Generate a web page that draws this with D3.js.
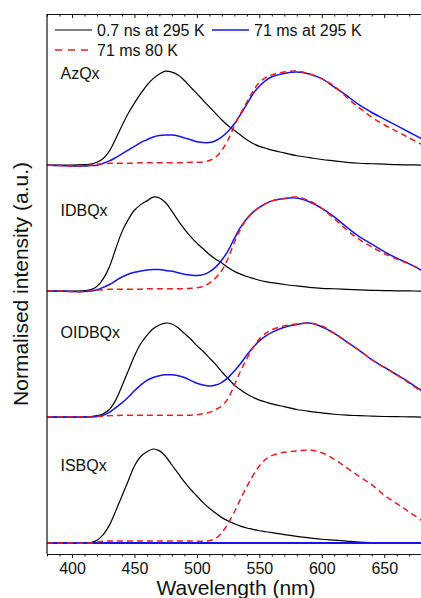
<!DOCTYPE html>
<html>
<head>
<meta charset="utf-8">
<script src="https://cdn.jsdelivr.net/npm/d3@7"></script>
<style>
  html, body { margin: 0; padding: 0; background: #fff; }
  svg { display: block; }
  text { font-family: "Liberation Sans", Arial, sans-serif; fill: #111; }
</style>
</head>
<body>
<svg id="chart" width="421" height="598"></svg>
<script>
// ---------------- data ----------------
const wavelengths = [380,390,400,410,415,420,425,430,435,440,445,450,455,460,465,470,475,480,485,490,495,500,505,510,515,520,525,530,535,540,545,550,555,560,570,580,590,600,610,620,630,640,650,660,670,680];

const samples = ["AzQx", "IDBQx", "OIDBQx", "ISBQx"];
const sampleOffsets = [4.02, 2.68, 1.34, 0];
const seriesNames = ["0.7 ns at 295 K", "71 ms at 295 K", "71 ms 80 K"];

// 0.7 ns at 295 K (prompt)
const azqxPrompt   = [0,0,0,0.005,0.01,0.03,0.07,0.15,0.28,0.42,0.55,0.66,0.76,0.85,0.92,0.97,1.0,0.99,0.96,0.90,0.83,0.76,0.69,0.62,0.55,0.48,0.42,0.37,0.32,0.27,0.23,0.20,0.18,0.16,0.13,0.10,0.08,0.06,0.045,0.03,0.02,0.015,0.01,0.005,0.003,0];
const idbqxPrompt  = [0,0,0,0.005,0.015,0.05,0.13,0.26,0.45,0.63,0.76,0.86,0.92,0.96,1.0,0.99,0.94,0.85,0.75,0.66,0.58,0.51,0.45,0.39,0.34,0.30,0.25,0.21,0.18,0.155,0.135,0.115,0.10,0.09,0.07,0.055,0.04,0.03,0.025,0.018,0.012,0.008,0.005,0.003,0.002,0];
const oidbqxPrompt = [0,0,0,0.002,0.005,0.015,0.035,0.08,0.18,0.33,0.49,0.65,0.78,0.87,0.94,0.98,1.0,0.99,0.95,0.89,0.83,0.76,0.70,0.63,0.56,0.48,0.41,0.34,0.29,0.245,0.21,0.18,0.16,0.14,0.11,0.08,0.06,0.045,0.03,0.02,0.015,0.01,0.006,0.004,0.002,0];
const isbqxPrompt  = [0,0,0,0,0.005,0.03,0.09,0.19,0.34,0.50,0.66,0.82,0.92,0.97,1.0,0.98,0.92,0.83,0.74,0.65,0.57,0.50,0.43,0.37,0.32,0.27,0.235,0.205,0.18,0.16,0.145,0.13,0.12,0.11,0.09,0.07,0.055,0.04,0.03,0.02,0.01,0.005,0.003,0.002,0.001,0];

// 71 ms at 295 K (delayed, room temperature)
const azqxDelayed   = [0,-0.005,-0.01,-0.01,-0.005,0.0,0.02,0.045,0.08,0.12,0.16,0.20,0.24,0.27,0.30,0.315,0.32,0.32,0.31,0.29,0.27,0.25,0.24,0.24,0.26,0.30,0.36,0.44,0.54,0.65,0.76,0.84,0.90,0.94,0.975,0.99,0.97,0.92,0.83,0.74,0.64,0.56,0.49,0.42,0.35,0.28];
const idbqxDelayed  = [0,0,-0.005,-0.005,0.0,0.015,0.04,0.07,0.11,0.15,0.18,0.20,0.215,0.225,0.23,0.23,0.22,0.21,0.195,0.18,0.17,0.165,0.175,0.205,0.255,0.33,0.43,0.56,0.68,0.77,0.84,0.89,0.93,0.96,0.985,0.99,0.95,0.88,0.79,0.68,0.58,0.50,0.42,0.35,0.29,0.22];
const oidbqxDelayed = [0,0,0,0,0,0.005,0.02,0.05,0.10,0.15,0.21,0.28,0.34,0.39,0.42,0.44,0.45,0.45,0.44,0.42,0.39,0.36,0.34,0.33,0.34,0.37,0.42,0.49,0.57,0.66,0.74,0.81,0.86,0.90,0.955,0.985,1.0,0.96,0.89,0.80,0.71,0.61,0.53,0.45,0.37,0.28];
const isbqxDelayed  = [0,0,0,0,0,0,0,0,0,0,0,0,0,0,0,0,0,0,0,0,0,0,0,0,0,0,0,0,0,0,0,0,0,0,0,0,0,0,0,0,0,0,0,0,0,0];

// 71 ms 80 K (delayed, low temperature)
const azqxCold   = [0,-0.005,-0.01,-0.005,0.0,0.01,0.015,0.02,0.02,0.02,0.02,0.02,0.025,0.025,0.025,0.025,0.025,0.025,0.025,0.025,0.03,0.03,0.035,0.05,0.085,0.16,0.27,0.42,0.55,0.67,0.79,0.88,0.93,0.96,0.99,1.0,0.97,0.92,0.84,0.72,0.61,0.51,0.43,0.36,0.29,0.22];
const idbqxCold  = [0,0,-0.005,-0.005,0.0,0.01,0.015,0.02,0.02,0.02,0.02,0.02,0.02,0.025,0.025,0.025,0.025,0.025,0.025,0.025,0.03,0.035,0.05,0.085,0.14,0.22,0.35,0.52,0.66,0.77,0.84,0.89,0.93,0.96,0.985,1.0,0.96,0.88,0.77,0.65,0.55,0.47,0.40,0.34,0.29,0.23];
const oidbqxCold = [0,0,0,0,0,0.005,0.01,0.015,0.015,0.02,0.02,0.02,0.02,0.02,0.02,0.02,0.02,0.02,0.02,0.02,0.02,0.025,0.035,0.05,0.08,0.12,0.20,0.34,0.49,0.62,0.74,0.83,0.89,0.93,0.97,0.99,1.0,0.97,0.89,0.80,0.71,0.61,0.53,0.45,0.36,0.27];
const isbqxCold  = [0,0,0,0,0,0.01,0.02,0.02,0.02,0.02,0.02,0.02,0.02,0.02,0.02,0.02,0.02,0.02,0.02,0.02,0.02,0.02,0.02,0.025,0.05,0.11,0.21,0.33,0.47,0.60,0.72,0.82,0.89,0.93,0.965,0.98,0.99,0.96,0.89,0.80,0.71,0.62,0.51,0.42,0.33,0.24];

const promptSeries  = [azqxPrompt, idbqxPrompt, oidbqxPrompt, isbqxPrompt];
const delayedSeries = [azqxDelayed, idbqxDelayed, oidbqxDelayed, isbqxDelayed];
const coldSeries    = [azqxCold, idbqxCold, oidbqxCold, isbqxCold];

const xTicks = [400, 450, 500, 550, 600, 650];
const xDomain = [380, 680];
const yDomain = [-0.117, 5.628];

// ---------------- layout ----------------
const margin = { left: 47, top: 14, bottomY: 554, right: 421.7 };
const svg = d3.select("#chart");

const x = d3.scaleLinear().domain(xDomain).range([margin.left, margin.right]);
const y = d3.scaleLinear().domain(yDomain).range([margin.bottomY, margin.top]);

const styles = [
  { color: "#000000", width: 1.2, dash: null },
  { color: "#1414f0", width: 1.5, dash: null },
  { color: "#ee1c1c", width: 1.5, dash: "6,4" }
];

svg.append("defs").append("clipPath").attr("id", "clip")
  .append("rect").attr("x", margin.left).attr("y", margin.top)
  .attr("width", margin.right - margin.left).attr("height", margin.bottomY - margin.top);

const gLines = svg.append("g").attr("clip-path", "url(#clip)");

samples.forEach((name, i) => {
  const off = sampleOffsets[i];
  const groups = [promptSeries[i], delayedSeries[i], coldSeries[i]];
  groups.forEach((vals, k) => {
    const line = d3.line()
      .x((d, j) => x(wavelengths[j]))
      .y(d => y(d + off))
      .curve(d3.curveCatmullRom.alpha(0.5));
    const flat = vals.every(v => v === 0);
    const p = gLines.append("path")
      .datum(vals)
      .attr("d", line)
      .attr("fill", "none")
      .attr("stroke", styles[k].color)
      .attr("stroke-width", flat ? 2 : styles[k].width)
      .attr("stroke-linejoin", "round");
    if (styles[k].dash) p.attr("stroke-dasharray", styles[k].dash);
  });
});

// panel labels
const labelRise = [86, 75, 79, 72];
samples.forEach((name, i) => {
  svg.append("text")
    .attr("x", 60.5)
    .attr("y", y(sampleOffsets[i]) - labelRise[i])
    .attr("font-size", 16)
    .text(name);
});

// axes
const minorTicks = d3.range(380, 681, 10).filter(v => v % 50 !== 0);

const bottomAxis = d3.axisBottom(x).tickValues(xTicks).tickSizeInner(4).tickSizeOuter(0).tickPadding(5).tickFormat(d3.format("d"));
const gB = svg.append("g").attr("transform", `translate(0,${margin.bottomY})`).call(bottomAxis);
gB.selectAll("text").attr("font-size", 16).attr("font-family", '"Liberation Sans", Arial, sans-serif').attr("fill", "#111");
gB.select(".domain").attr("stroke", "#111").attr("stroke-width", 1.2);
gB.selectAll(".tick line").attr("stroke", "#111");
const gBm = svg.append("g").attr("transform", `translate(0,${margin.bottomY})`)
  .call(d3.axisBottom(x).tickValues(minorTicks).tickSize(2.5).tickFormat(""));
gBm.select(".domain").remove();
gBm.selectAll(".tick line").attr("stroke", "#111");

// top axis (ticks inward)
const gT = svg.append("g").attr("transform", `translate(0,${margin.top})`)
  .call(d3.axisBottom(x).tickValues(xTicks).tickSizeInner(4).tickSizeOuter(0).tickFormat(""));
gT.select(".domain").attr("stroke", "#111").attr("stroke-width", 1.2);
gT.selectAll(".tick line").attr("stroke", "#111");
const gTm = svg.append("g").attr("transform", `translate(0,${margin.top})`)
  .call(d3.axisBottom(x).tickValues(minorTicks).tickSize(2.5).tickFormat(""));
gTm.select(".domain").remove();
gTm.selectAll(".tick line").attr("stroke", "#111");

// left axis line
svg.append("line")
  .attr("x1", margin.left).attr("x2", margin.left)
  .attr("y1", margin.top).attr("y2", margin.bottomY)
  .attr("stroke", "#111").attr("stroke-width", 1.2);

// axis titles
svg.append("text")
  .attr("x", 236).attr("y", 595)
  .attr("text-anchor", "middle")
  .attr("font-size", 21)
  .text("Wavelength (nm)");
svg.append("text")
  .attr("transform", `translate(28,${(margin.top + margin.bottomY) / 2}) rotate(-90)`)
  .attr("text-anchor", "middle")
  .attr("font-size", 21)
  .text("Normalised intensity (a.u.)");

// legend
const legend = [
  { name: seriesNames[0], style: styles[0], lx: 55, ly: 30 },
  { name: seriesNames[1], style: styles[1], lx: 212, ly: 30 },
  { name: seriesNames[2], style: styles[2], lx: 55, ly: 50 }
];
legend.forEach(l => {
  const ln = svg.append("line")
    .attr("x1", l.lx).attr("x2", l.lx + 37)
    .attr("y1", l.ly).attr("y2", l.ly)
    .attr("stroke", l.style.color).attr("stroke-width", l.style.width);
  if (l.style.dash) ln.attr("stroke-dasharray", "7,6");
  svg.append("text")
    .attr("x", l.lx + 42).attr("y", l.ly + 5.8)
    .attr("font-size", 16)
    .text(l.name);
});
</script>
</body>
</html>
